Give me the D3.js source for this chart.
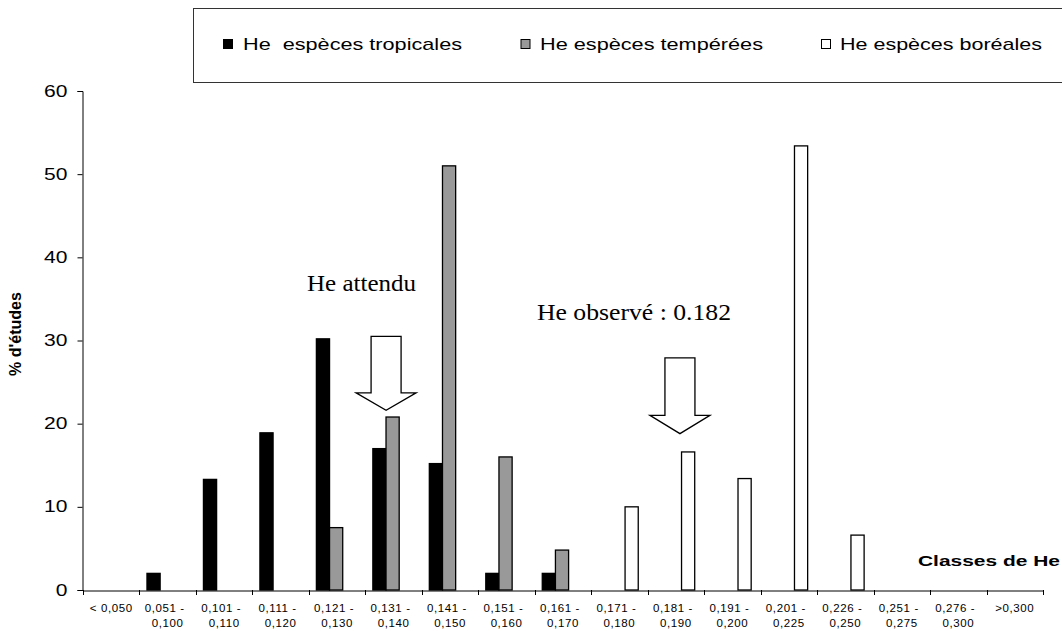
<!DOCTYPE html>
<html>
<head>
<meta charset="utf-8">
<script src="https://cdn.jsdelivr.net/npm/d3@7"></script>
<style>
  html, body { margin: 0; padding: 0; background: #fff; }
  svg { display: block; }
  text { fill: #000; }
</style>
</head>
<body>
<svg id="chart" width="1062" height="631"></svg>
<script>
// ---------- data ----------
const categories = ["<0,050","0,051-0,100","0,101-0,110","0,111-0,120","0,121-0,130","0,131-0,140",
  "0,141-0,150","0,151-0,160","0,161-0,170","0,171-0,180","0,181-0,190","0,191-0,200",
  "0,201-0,225","0,226-0,250","0,251-0,275","0,276-0,300",">0,300"];
const tickLine1 = ["< 0,050","0,051 -","0,101 -","0,111 -","0,121 -","0,131 -","0,141 -","0,151 -",
  "0,161 -","0,171 -","0,181 -","0,191 -","0,201 -","0,226 -","0,251 -","0,276 -",">0,300"];
const tickLine2 = ["","0,100","0,110","0,120","0,130","0,140","0,150","0,160","0,170","0,180",
  "0,190","0,200","0,225","0,250","0,275","0,300",""];
const seriesNames = ["He  espèces tropicales","He espèces tempérées","He espèces boréales"];
const tropicales = [0, 2.0, 13.3, 18.9, 30.2, 17.0, 15.2, 2.0, 2.0, 0, 0, 0, 0, 0, 0, 0, 0];
const temperees  = [0, 0, 0, 0, 7.5, 20.8, 51.0, 16.0, 4.8, 0, 0, 0, 0, 0, 0, 0, 0];
const boreales   = [0, 0, 0, 0, 0, 0, 0, 0, 0, 10.0, 16.6, 13.4, 53.4, 6.6, 0, 0, 0];
const yTicks = [0, 10, 20, 30, 40, 50, 60];
// annotations
const annotLabels = ["He attendu", "He observé : 0.182"];
const annotCats = ["0,131-0,140", "0,181-0,190"];
const annotTip = [21.6, 18.8];
const annotHead = [23.7, 21.0];
const annotTop = [30.5, 27.9];
const annotTextVal = [36.0, 32.5];

// ---------- layout ----------
const SANS = "Arial, 'Liberation Sans', sans-serif";
const SERIF = "'Liberation Serif', 'Times New Roman', serif";
const svg = d3.select("#chart").style("font-family", SANS);
const fills = ["#000000", "#999999", "#ffffff"];
const seriesData = [tropicales, temperees, boreales];

const x = d3.scaleBand().domain(categories).range([83, 1043]).padding(0);
const xs = d3.scaleBand().domain(d3.range(3)).range([7.5, 47]).padding(0);
const y = d3.scaleLinear().domain([0, 60]).range([590, 91]);

function stretch(sel, w) {
  sel.each(function() {
    this.setAttribute("textLength", w);
    this.setAttribute("lengthAdjust", "spacingAndGlyphs");
  });
}

// legend box
svg.append("rect").attr("x", 193.5).attr("y", 8.5).attr("width", 900).attr("height", 74)
  .attr("fill", "#fff").attr("stroke", "#333").attr("stroke-width", 1);
const legX = [223, 520.5, 821];
const legTextX = [243, 540, 840];
const legW = [219, 223, 202];
seriesNames.forEach((n, i) => {
  svg.append("rect").attr("x", legX[i] + 0.5).attr("y", 39.5).attr("width", 9).attr("height", 9)
    .attr("fill", fills[i]).attr("stroke", "#000").attr("stroke-width", 1);
  const t = svg.append("text").attr("x", legTextX[i]).attr("y", 50).style("font-size", "17px")
    .style("white-space", "pre").text(n);
  stretch(t, legW[i]);
});

// bars
seriesData.forEach((vals, s) => {
  svg.append("g").selectAll("rect")
    .data(vals.map((v, i) => ({v, c: categories[i]})).filter(d => d.v > 0))
    .join("rect")
    .attr("x", d => x(d.c) + xs(s))
    .attr("y", d => y(d.v))
    .attr("width", xs.bandwidth())
    .attr("height", d => y(0) - y(d.v))
    .attr("fill", fills[s])
    .attr("stroke", "#000")
    .attr("stroke-width", 1.3);
});

// y axis
const yAxis = svg.append("g").attr("transform", "translate(82.5,0)")
  .call(d3.axisLeft(y).tickValues(yTicks).tickSize(5).tickPadding(10).tickFormat(d3.format("d")));
yAxis.attr("font-family", null).attr("font-size", null);
yAxis.select(".domain").attr("stroke", "#000");
yAxis.selectAll(".tick line").attr("stroke", "#000");
yAxis.selectAll(".tick text").style("font-size", "16px").style("font-family", SANS)
  .each(function(d) { stretch(d3.select(this), String(d).length * 11.7); });

// x axis
const xAxis = svg.append("g").attr("transform", "translate(0,590.5)")
  .call(d3.axisBottom(x).tickSize(0).tickFormat(""));
xAxis.select(".domain").attr("stroke", "#000");
xAxis.selectAll(".tick").remove();
const bounds = categories.map(c => x(c)).concat([x.range()[1]]);
svg.append("g").selectAll("line").data(bounds).join("line")
  .attr("x1", d => Math.round(d) + 0.5).attr("x2", d => Math.round(d) + 0.5)
  .attr("y1", 590).attr("y2", 595).attr("stroke", "#000");
const xl = svg.append("g").style("font-size", "11.5px").attr("text-anchor", "middle")
  .style("letter-spacing", "0.6px");
categories.forEach((c, i) => {
  const cx = x(c) + x.bandwidth() / 2;
  xl.append("text").attr("x", cx - (tickLine2[i] ? 3 : 0)).attr("y", 612).text(tickLine1[i]);
  if (tickLine2[i]) xl.append("text").attr("x", cx).attr("y", 627).text(tickLine2[i]);
});

// axis titles
svg.append("text").attr("transform", "translate(21,334) rotate(-90)")
  .attr("text-anchor", "middle").style("font-size", "16px").style("font-weight", "bold").text("% d'études");
const xt = svg.append("text").attr("x", 918).attr("y", 566).style("font-size", "15px")
  .style("font-weight", "bold").text("Classes de He");
stretch(xt, 142);

// annotations
const annotTextX = [307, 537];
const annotTextW = [109, 194];
annotLabels.forEach((lab, i) => {
  const cx = x(annotCats[i]) + x.bandwidth() / 2;
  const tipX = cx + (i === 0 ? -7.5 : 4);
  const tipY = y(annotTip[i]), headY = y(annotHead[i]), topY = y(annotTop[i]);
  const pts = [[tipX - 15, topY], [tipX + 15, topY], [tipX + 15, headY], [tipX + 30, headY],
    [tipX, tipY], [tipX - 30, headY], [tipX - 15, headY]];
  svg.append("polygon").attr("points", pts.map(p => p.join(",")).join(" "))
    .attr("fill", "#fff").attr("stroke", "#000").attr("stroke-width", 1.3);
  const t = svg.append("text").attr("x", annotTextX[i]).attr("y", y(annotTextVal[i]))
    .style("font-family", SERIF).style("font-size", "24px").text(lab);
  stretch(t, annotTextW[i]);
});
</script>
</body>
</html>
